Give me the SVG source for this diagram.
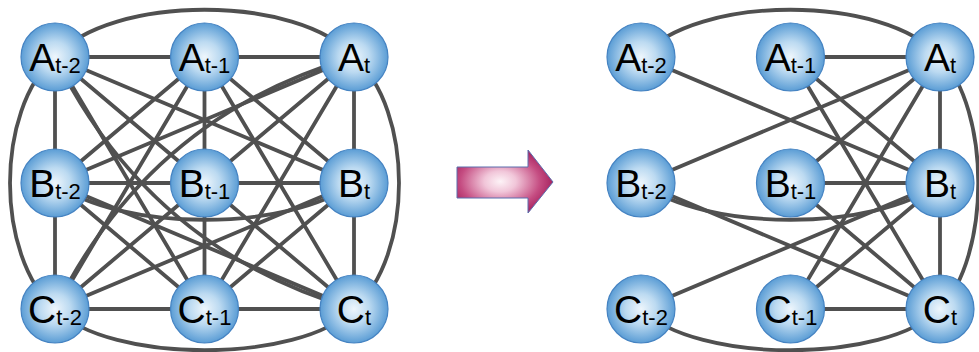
<svg xmlns="http://www.w3.org/2000/svg" width="979" height="352" viewBox="0 0 979 352">
<defs>
  <radialGradient id="ball" cx="50%" cy="50%" r="50%">
    <stop offset="0" stop-color="#eef6fc"/>
    <stop offset="0.45" stop-color="#bcdaf1"/>
    <stop offset="1" stop-color="#5b9dd5"/>
  </radialGradient>
  <radialGradient id="arrowGrad" cx="0.45" cy="0.5" r="0.55">
    <stop offset="0" stop-color="#fdf3f7"/>
    <stop offset="0.3" stop-color="#f1c6d9"/>
    <stop offset="0.75" stop-color="#c54d82"/>
    <stop offset="1" stop-color="#a72460"/>
  </radialGradient>
</defs>
<style>
  .e { fill: none; stroke: #505050; stroke-width: 3.8; stroke-linecap: round; }
  .n { fill: url(#ball); stroke: #4583c2; stroke-width: 1.2; }
  .t { font-family: "Liberation Sans", Arial, sans-serif; font-size: 39px; fill: #000; text-anchor: middle; }
  .s { font-size: 22px; }
</style>

<g id="connectors-left">
  <line class="e" x1="55" y1="57" x2="204.5" y2="57"/>
  <line class="e" x1="204.5" y1="57" x2="354" y2="57"/>
  <line class="e" x1="55" y1="183" x2="204.5" y2="183"/>
  <line class="e" x1="204.5" y1="183" x2="354" y2="183"/>
  <line class="e" x1="55" y1="309" x2="204.5" y2="309"/>
  <line class="e" x1="204.5" y1="309" x2="354" y2="309"/>
  <line class="e" x1="55" y1="57" x2="55" y2="183"/>
  <line class="e" x1="55" y1="183" x2="55" y2="309"/>
  <line class="e" x1="204.5" y1="57" x2="204.5" y2="183"/>
  <line class="e" x1="204.5" y1="183" x2="204.5" y2="309"/>
  <line class="e" x1="354" y1="57" x2="354" y2="183"/>
  <line class="e" x1="354" y1="183" x2="354" y2="309"/>
  <line class="e" x1="55" y1="57" x2="204.5" y2="183"/>
  <line class="e" x1="55" y1="57" x2="354" y2="183"/>
  <line class="e" x1="55" y1="57" x2="204.5" y2="309"/>
  <line class="e" x1="204.5" y1="57" x2="55" y2="183"/>
  <line class="e" x1="204.5" y1="57" x2="354" y2="183"/>
  <line class="e" x1="204.5" y1="57" x2="55" y2="309"/>
  <line class="e" x1="204.5" y1="57" x2="354" y2="309"/>
  <line class="e" x1="354" y1="57" x2="55" y2="183"/>
  <line class="e" x1="354" y1="57" x2="204.5" y2="183"/>
  <line class="e" x1="354" y1="57" x2="204.5" y2="309"/>
  <line class="e" x1="55" y1="183" x2="204.5" y2="309"/>
  <line class="e" x1="55" y1="183" x2="354" y2="309"/>
  <line class="e" x1="204.5" y1="183" x2="55" y2="309"/>
  <line class="e" x1="204.5" y1="183" x2="354" y2="309"/>
  <line class="e" x1="354" y1="183" x2="55" y2="309"/>
  <line class="e" x1="354" y1="183" x2="204.5" y2="309"/>
  <path class="e" d="M55,57 Q150,250 354,309"/>
  <path class="e" d="M55,309 Q150,116 354,57"/>
  <path class="e" d="M55,57 C110,-6 299,-6 354,57"/>
  <path class="e" d="M55,309 C110,364 299,364 354,309"/>
  <path class="e" d="M55,57 C-5,110 -5,256 55,309"/>
  <path class="e" d="M354,57 C414,110 414,256 354,309"/>
  <path class="e" d="M55,183 C120,232 289,232 354,183"/>
</g>

<g id="connectors-right">
  <line class="e" x1="641" y1="57" x2="940" y2="183"/>
  <line class="e" x1="790.5" y1="57" x2="940" y2="57"/>
  <line class="e" x1="790.5" y1="57" x2="940" y2="183"/>
  <line class="e" x1="790.5" y1="57" x2="940" y2="309"/>
  <line class="e" x1="940" y1="57" x2="641" y2="183"/>
  <line class="e" x1="940" y1="57" x2="790.5" y2="183"/>
  <line class="e" x1="940" y1="57" x2="790.5" y2="309"/>
  <line class="e" x1="940" y1="57" x2="940" y2="183"/>
  <line class="e" x1="940" y1="183" x2="940" y2="309"/>
  <line class="e" x1="790.5" y1="183" x2="940" y2="183"/>
  <line class="e" x1="790.5" y1="183" x2="940" y2="309"/>
  <line class="e" x1="641" y1="183" x2="940" y2="309"/>
  <line class="e" x1="940" y1="183" x2="641" y2="309"/>
  <line class="e" x1="940" y1="183" x2="790.5" y2="309"/>
  <line class="e" x1="790.5" y1="309" x2="940" y2="309"/>
  <path class="e" d="M641,57 C696,-6 885,-6 940,57"/>
  <path class="e" d="M641,309 C696,364 885,364 940,309"/>
  <path class="e" d="M940,57 C991,110 991,256 940,309"/>
  <path class="e" d="M641,183 C706,232 875,232 940,183"/>
</g>

<g id="arrow">
  <path d="M457,167 L528,167 L528,150 L553,182 L528,213 L528,198 L457,198 Z" fill="url(#arrowGrad)" stroke="#5b6fae" stroke-width="1"/>
</g>

<g id="L-A-t-2"><circle class="n" cx="55" cy="57" r="34"/><text class="t" x="55" y="71">A<tspan class="s" dy="2">t-2</tspan></text></g>
<g id="L-A-t-1"><circle class="n" cx="204.5" cy="57" r="34"/><text class="t" x="204.5" y="71">A<tspan class="s" dy="2">t-1</tspan></text></g>
<g id="L-A-t"><circle class="n" cx="354" cy="57" r="34"/><text class="t" x="354" y="71">A<tspan class="s" dy="2">t</tspan></text></g>
<g id="L-B-t-2"><circle class="n" cx="55" cy="183" r="34"/><text class="t" x="55" y="197">B<tspan class="s" dy="2">t-2</tspan></text></g>
<g id="L-B-t-1"><circle class="n" cx="204.5" cy="183" r="34"/><text class="t" x="204.5" y="197">B<tspan class="s" dy="2">t-1</tspan></text></g>
<g id="L-B-t"><circle class="n" cx="354" cy="183" r="34"/><text class="t" x="354" y="197">B<tspan class="s" dy="2">t</tspan></text></g>
<g id="L-C-t-2"><circle class="n" cx="55" cy="309" r="34"/><text class="t" x="55" y="323">C<tspan class="s" dy="2">t-2</tspan></text></g>
<g id="L-C-t-1"><circle class="n" cx="204.5" cy="309" r="34"/><text class="t" x="204.5" y="323">C<tspan class="s" dy="2">t-1</tspan></text></g>
<g id="L-C-t"><circle class="n" cx="354" cy="309" r="34"/><text class="t" x="354" y="323">C<tspan class="s" dy="2">t</tspan></text></g>

<g id="R-A-t-2"><circle class="n" cx="641" cy="57" r="34"/><text class="t" x="641" y="71">A<tspan class="s" dy="2">t-2</tspan></text></g>
<g id="R-A-t-1"><circle class="n" cx="790.5" cy="57" r="34"/><text class="t" x="790.5" y="71">A<tspan class="s" dy="2">t-1</tspan></text></g>
<g id="R-A-t"><circle class="n" cx="940" cy="57" r="34"/><text class="t" x="940" y="71">A<tspan class="s" dy="2">t</tspan></text></g>
<g id="R-B-t-2"><circle class="n" cx="641" cy="183" r="34"/><text class="t" x="641" y="197">B<tspan class="s" dy="2">t-2</tspan></text></g>
<g id="R-B-t-1"><circle class="n" cx="790.5" cy="183" r="34"/><text class="t" x="790.5" y="197">B<tspan class="s" dy="2">t-1</tspan></text></g>
<g id="R-B-t"><circle class="n" cx="940" cy="183" r="34"/><text class="t" x="940" y="197">B<tspan class="s" dy="2">t</tspan></text></g>
<g id="R-C-t-2"><circle class="n" cx="641" cy="309" r="34"/><text class="t" x="641" y="323">C<tspan class="s" dy="2">t-2</tspan></text></g>
<g id="R-C-t-1"><circle class="n" cx="790.5" cy="309" r="34"/><text class="t" x="790.5" y="323">C<tspan class="s" dy="2">t-1</tspan></text></g>
<g id="R-C-t"><circle class="n" cx="940" cy="309" r="34"/><text class="t" x="940" y="323">C<tspan class="s" dy="2">t</tspan></text></g>
</svg>
